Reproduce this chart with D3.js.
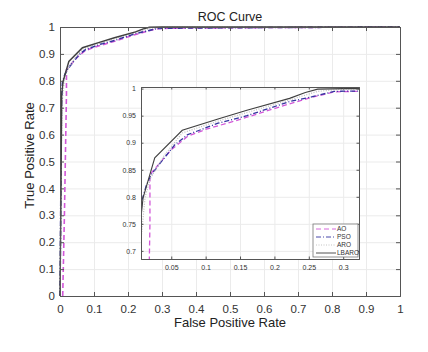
<!DOCTYPE html>
<html>
<head>
<meta charset="utf-8">
<script src="https://cdn.jsdelivr.net/npm/d3@7"></script>
<style>
  body { margin: 0; background: #fff; }
  svg { font-family: "Liberation Sans", Arial, sans-serif; }
  .axis path, .axis line { stroke: #555; }
  .axis text { fill: #333; }
  .grid line { stroke: #ebebeb; }
  .grid path { display: none; }
</style>
</head>
<body>
<svg id="chart"></svg>
<script>
// ROC data
const aoFpr    = [0.008, 0.013, 0.017, 0.019, 0.019, 0.031, 0.05, 0.074, 0.101, 0.15, 0.217, 0.255, 0.287, 0.35, 0.6, 1];
const aoTpr    = [0, 0.3, 0.6, 0.75, 0.841, 0.859, 0.887, 0.912, 0.925, 0.943, 0.970, 0.984, 0.994, 0.996, 0.998, 1];
const psoFpr   = [0, 0.002, 0.004, 0.007, 0.014, 0.021, 0.038, 0.055, 0.074, 0.118, 0.16, 0.222, 0.255, 0.287, 0.35, 0.6, 1];
const psoTpr   = [0, 0.3, 0.70, 0.792, 0.822, 0.841, 0.869, 0.896, 0.915, 0.936, 0.950, 0.976, 0.985, 0.995, 0.996, 0.998, 1];
const aroFpr   = [0, 0.003, 0.006, 0.012, 0.02, 0.04, 0.066, 0.118, 0.222, 0.263, 0.3, 1];
const aroTpr   = [0, 0.5, 0.72, 0.80, 0.835, 0.877, 0.918, 0.940, 0.979, 0.995, 0.999, 1];
const lbaroFpr = [0, 0.003, 0.005, 0.009, 0.026, 0.066, 0.118, 0.16, 0.222, 0.245, 0.263, 0.3, 1];
const lbaroTpr = [0, 0.4, 0.75, 0.798, 0.872, 0.923, 0.944, 0.960, 0.982, 0.993, 0.999, 1, 1];

const mainTicks  = [0, 0.1, 0.2, 0.3, 0.4, 0.5, 0.6, 0.7, 0.8, 0.9, 1];
const mainLabels = ['0', '0.1', '0.2', '0.3', '0.4', '0.5', '0.6', '0.7', '0.8', '0.9', '1'];
const insetXTicks  = [0.05, 0.1, 0.15, 0.2, 0.25, 0.3];
const insetXLabels = ['0.05', '0.1', '0.15', '0.2', '0.25', '0.3'];
const insetYTicks  = [0.7, 0.75, 0.8, 0.85, 0.9, 0.95, 1];
const insetYLabels = ['0.7', '0.75', '0.8', '0.85', '0.9', '0.95', '1'];

const seriesNames = ['AO', 'PSO', 'ARO', 'LBARO'];

const series = [
  { name: 'AO',    fpr: aoFpr,    tpr: aoTpr,    color: '#d257d8', dash: '5,3',     width: 1.3 },
  { name: 'PSO',   fpr: psoFpr,   tpr: psoTpr,   color: '#3434a0', dash: '5,2,1,2', width: 1.3 },
  { name: 'ARO',   fpr: aroFpr,   tpr: aroTpr,   color: '#bdbdbd', dash: '1,1.5',   width: 1.2 },
  { name: 'LBARO', fpr: lbaroFpr, tpr: lbaroTpr, color: '#404040', dash: null,      width: 1.1 }
];

const W = 428, H = 352;
const margin = { top: 27, left: 60, right: 28, bottom: 56 };
const width = W - margin.left - margin.right;
const height = H - margin.top - margin.bottom;

const svg = d3.select('#chart').attr('width', W).attr('height', H);
const chart = svg.append('g').attr('transform', `translate(${margin.left},${margin.top})`);

const xScale = d3.scaleLinear().domain([0, 1]).range([0, width]);
const yScale = d3.scaleLinear().domain([0, 1]).range([height, 0]);

const fmt = (ticks, labels) => d => labels[ticks.indexOf(d)];

// grid
chart.append('g').attr('class', 'grid')
  .attr('transform', `translate(0,${height})`)
  .call(d3.axisBottom(xScale).tickValues(mainTicks).tickSize(-height).tickFormat(''));
chart.append('g').attr('class', 'grid')
  .call(d3.axisLeft(yScale).tickValues(mainTicks).tickSize(-width).tickFormat(''));

// main curves
const toPoints = s => s.fpr.map((f, i) => [f, s.tpr[i]]);
const mainLine = d3.line().x(d => xScale(d[0])).y(d => yScale(d[1]));

chart.selectAll('.main-line')
  .data(series)
  .join('path')
    .attr('class', 'main-line')
    .attr('fill', 'none')
    .attr('stroke', d => d.color)
    .attr('stroke-width', d => d.width + 0.3)
    .attr('stroke-dasharray', d => d.dash)
    .attr('d', d => mainLine(toPoints(d)));

// axes (inward ticks, box)
chart.append('g').attr('class', 'axis')
  .attr('transform', `translate(0,${height})`)
  .call(d3.axisBottom(xScale).tickValues(mainTicks).tickSize(-4).tickPadding(9)
    .tickFormat(fmt(mainTicks, mainLabels)));
chart.append('g').attr('class', 'axis')
  .call(d3.axisLeft(yScale).tickValues(mainTicks).tickSize(-4).tickPadding(5)
    .tickFormat(fmt(mainTicks, mainLabels)));
chart.append('g').attr('class', 'axis')
  .call(d3.axisTop(xScale).tickValues(mainTicks).tickSize(-4).tickFormat(''));
chart.append('g').attr('class', 'axis')
  .attr('transform', `translate(${width},0)`)
  .call(d3.axisRight(yScale).tickValues(mainTicks).tickSize(-4).tickFormat(''));
chart.selectAll('.axis path').attr('stroke-width', 1);
chart.selectAll('.axis text').style('font-size', '11.5px');

// titles
chart.append('text')
  .attr('x', width / 2).attr('y', -6)
  .attr('text-anchor', 'middle')
  .style('font-size', '12.5px').attr('fill', '#222')
  .text('ROC Curve');
chart.append('text')
  .attr('x', width / 2).attr('y', height + 31)
  .attr('text-anchor', 'middle')
  .style('font-size', '13px').attr('fill', '#222')
  .text('False Positive Rate');
chart.append('text')
  .attr('transform', `translate(-26,${height / 2 - 6}) rotate(-90)`)
  .attr('text-anchor', 'middle')
  .style('font-size', '13px').attr('fill', '#222')
  .text('True Positive Rate');

// inset
const inset = { x: 141, y: 87, w: 218, h: 172 };
const ix = d3.scaleLinear().domain([0.006, 0.323]).range([0, inset.w]);
const iy = d3.scaleLinear().domain([0.685, 1.003]).range([inset.h, 0]);

const ig = svg.append('g').attr('transform', `translate(${inset.x},${inset.y})`);
ig.append('rect').attr('width', inset.w).attr('height', inset.h).attr('fill', '#fff');

ig.append('clipPath').attr('id', 'inset-clip')
  .append('rect').attr('width', inset.w).attr('height', inset.h);

ig.append('g').attr('class', 'grid')
  .attr('transform', `translate(0,${inset.h})`)
  .call(d3.axisBottom(ix).tickValues(insetXTicks).tickSize(-inset.h).tickFormat(''));
ig.append('g').attr('class', 'grid')
  .call(d3.axisLeft(iy).tickValues(insetYTicks).tickSize(-inset.w).tickFormat(''));

const insetLine = d3.line().x(d => ix(d[0])).y(d => iy(d[1]));
ig.append('g').attr('clip-path', 'url(#inset-clip)')
  .selectAll('.inset-line')
  .data(series)
  .join('path')
    .attr('class', 'inset-line')
    .attr('fill', 'none')
    .attr('stroke', d => d.color)
    .attr('stroke-width', d => d.width)
    .attr('stroke-dasharray', d => d.dash)
    .attr('d', d => insetLine(toPoints(d)));

ig.append('g').attr('class', 'axis')
  .attr('transform', `translate(0,${inset.h})`)
  .call(d3.axisBottom(ix).tickValues(insetXTicks).tickSize(-2.5).tickPadding(6)
    .tickFormat(fmt(insetXTicks, insetXLabels)));
ig.append('g').attr('class', 'axis')
  .call(d3.axisLeft(iy).tickValues(insetYTicks).tickSize(-2.5).tickPadding(5)
    .tickFormat(fmt(insetYTicks, insetYLabels)));
ig.append('g').attr('class', 'axis')
  .call(d3.axisTop(ix).tickValues(insetXTicks).tickSize(-2.5).tickFormat(''));
ig.append('g').attr('class', 'axis')
  .attr('transform', `translate(${inset.w},0)`)
  .call(d3.axisRight(iy).tickValues(insetYTicks).tickSize(-2.5).tickFormat(''));
ig.selectAll('.axis text').style('font-size', '7px');
ig.selectAll('.axis path').attr('stroke', '#777');

// legend
const legend = ig.append('g').attr('transform', `translate(${inset.w - 46},${inset.h - 35})`);
legend.append('rect')
  .attr('width', 45).attr('height', 33)
  .attr('fill', '#fff').attr('stroke', '#777').attr('stroke-width', 0.8);
const entry = legend.selectAll('.entry')
  .data(series)
  .join('g')
    .attr('class', 'entry')
    .attr('transform', (d, i) => `translate(0,${5 + i * 8})`);
entry.append('line')
  .attr('x1', 3).attr('x2', 23)
  .attr('stroke', d => d.color)
  .attr('stroke-width', 0.9)
  .attr('stroke-dasharray', d => d.dash);
entry.append('text')
  .attr('x', 24).attr('dy', '0.35em')
  .style('font-size', '6.5px').attr('fill', '#333')
  .text((d, i) => seriesNames[i]);
</script>
</body>
</html>
